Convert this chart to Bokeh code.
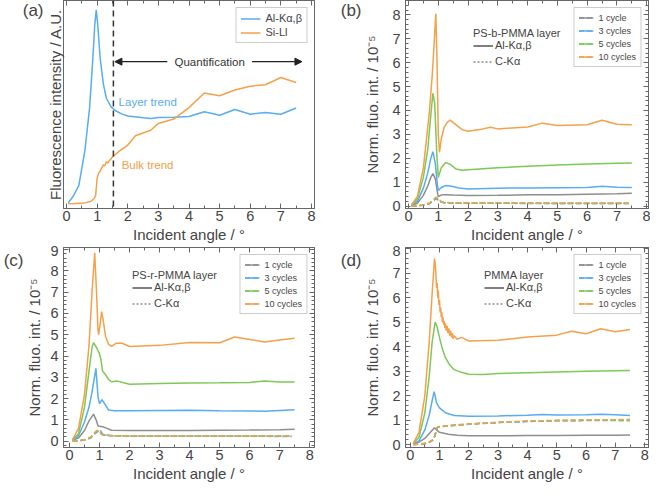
from bokeh.plotting import figure
from bokeh.models import (LinearAxis, SingleIntervalTicker, FixedTicker, Legend, LegendItem,
                          Label, Span, Arrow, NormalHead, Range1d)
from bokeh.layouts import gridplot
from bokeh.embed import file_html
from bokeh.resources import INLINE

NAN = float("nan")

# ---------------- data ----------------
# (a) overview, arbitrary units
a_al_x = [0.05, 0.2, 0.4, 0.6, 0.75, 0.85, 0.92, 0.97, 1.02, 1.1, 1.2, 1.3, 1.45, 1.6, 1.8, 2.0,
          2.5, 2.75, 3.0, 3.5, 4.0, 4.5, 5.0, 5.5, 6.0, 6.5, 7.0, 7.5]
a_al_y = [2.6, 5.5, 11, 28, 48, 70, 88, 95.5, 88, 72, 60, 53, 49, 47, 45.5, 44.5,
          43.6, 43.3, 43.7, 43.9, 44.2, 46.5, 44.8, 47.6, 45.3, 46.2, 45.3, 48.3]
a_si_x = [0.05, 0.3, 0.6, 0.8, 0.9, 0.95, 1.0, 1.05, 1.1, 1.15, 1.2, 1.25, 1.3, 1.35, 1.4, 1.5,
          1.7, 2.0, 2.25, 2.75, 3.0, 3.5, 4.0, 4.5, 5.0, 5.5, 6.0, 6.5, 7.0, 7.5]
a_si_y = [2.3, 2.4, 2.7, 3.5, 4.8, 6.3, 14.6, 17, 18, 19.5, 21, 20.5, 22.5, 21.8, 23, 24.8,
          27.3, 30.5, 35, 37.6, 40.9, 43, 48.5, 55.5, 54.2, 57, 58.8, 59.5, 63, 60.6]
a_quant_line = 1.53
a_quant_y = 70.6
a_quant_left = (3.29, 1.58)
a_quant_right = (6.06, 7.69)

cycle_labels = ["1 cycle", "3 cycles", "5 cycles", "10 cycles"]

# (b) PS-b-PMMA
b_al_x = [
    [0.1, 0.3, 0.5, 0.65, 0.75, 0.82, 0.9, 0.97, 1.0, 1.1, 1.2, 1.5, 2.0, 3.0, 4.0, 5.0, 6.0, 7.0, 7.5],
    [0.1, 0.3, 0.5, 0.65, 0.75, 0.82, 0.9, 0.97, 1.0, 1.1, 1.25, 1.4, 1.7, 2.0, 3.0, 4.0, 5.0, 6.0, 6.5, 7.0, 7.5],
    [0.1, 0.3, 0.5, 0.65, 0.75, 0.82, 0.88, 0.95, 1.0, 1.1, 1.25, 1.4, 1.6, 1.8, 2.0, 3.0, 4.0, 5.0, 6.0, 7.0, 7.5],
    [0.1, 0.3, 0.5, 0.7, 0.8, 0.88, 0.92, 0.96, 1.0, 1.04, 1.1, 1.2, 1.3, 1.4, 1.6, 1.8, 2.0, 2.5, 2.75, 3.0,
     4.0, 4.5, 5.0, 6.0, 6.5, 7.0, 7.5],
]
b_al_y = [
    [0.02, 0.12, 0.45, 0.85, 1.2, 1.36, 1.15, 0.6, 0.4, 0.46, 0.48, 0.46, 0.44, 0.45, 0.47, 0.48, 0.5, 0.52, 0.54],
    [0.03, 0.2, 0.75, 1.4, 2.0, 2.28, 1.8, 0.9, 0.65, 0.78, 0.86, 0.84, 0.76, 0.72, 0.75, 0.76, 0.77, 0.78, 0.83, 0.79, 0.78],
    [0.04, 0.3, 1.2, 2.4, 3.8, 4.72, 4.3, 2.2, 1.2, 1.6, 1.82, 1.75, 1.55, 1.5, 1.52, 1.6, 1.67, 1.72, 1.76, 1.79, 1.8],
    [0.05, 0.4, 1.6, 3.9, 5.5, 7.2, 8.05, 6.0, 3.0, 2.25, 2.8, 3.3, 3.5, 3.6, 3.4, 3.2, 3.13, 3.23, 3.3, 3.23,
     3.31, 3.47, 3.37, 3.4, 3.59, 3.42, 3.4],
]
b_c_x = [0.1, 0.3, 0.5, 0.7, 0.8, 0.88, 0.93, 1.0, 1.1, 1.2, 1.5, 2.0, 3.0, 4.0, 5.0, 6.0, 7.0, 7.4]
b_c_y = [
    [0.0, 0.01, 0.04, 0.1, 0.18, 0.26, 0.3, 0.25, 0.17, 0.14, 0.13, 0.12, 0.12, 0.12, 0.12, 0.12, 0.12, 0.12],
    [0.0, 0.01, 0.04, 0.11, 0.2, 0.28, 0.33, 0.27, 0.17, 0.14, 0.13, 0.12, 0.12, 0.11, 0.11, 0.11, 0.11, 0.11],
    [0.0, 0.01, 0.05, 0.12, 0.21, 0.3, 0.35, 0.28, 0.18, 0.14, 0.13, 0.12, 0.12, 0.12, 0.11, 0.11, 0.11, 0.11],
    [0.0, 0.02, 0.05, 0.13, 0.23, 0.33, 0.38, 0.3, 0.19, 0.15, 0.14, 0.13, 0.13, 0.12, 0.12, 0.12, 0.12, 0.12],
]

# (c) PS-r-PMMA
c_al_x = [
    [0.1, 0.3, 0.5, 0.65, 0.8, 0.9, 0.95, 1.1, 1.25, 1.4, 2.0, 3.0, 4.0, 5.0, 6.0, 7.0, 7.5],
    [0.1, 0.3, 0.5, 0.65, 0.75, 0.82, 0.88, 0.95, 1.0, 1.08, 1.2, 1.3, 1.5, 2.0, 3.0, 4.0, 5.0, 6.0, 6.5, 7.0, 7.5],
    [0.1, 0.3, 0.5, 0.65, 0.75, 0.8, 0.9, 1.0, 1.05, 1.1, 1.2, 1.3, 1.4, 1.6, 2.0, 3.0, 4.0, 5.0, 6.0, 6.5, 7.0, 7.5],
    [0.1, 0.3, 0.5, 0.65, 0.75, 0.84, 0.9, 0.95, 0.97, 1.02, 1.07, 1.12, 1.2, 1.3, 1.4, 1.45, 1.55, 1.75, 2.0,
     3.0, 4.0, 5.0, 5.5, 6.5, 7.0, 7.5],
]
c_al_y = [
    [0.05, 0.15, 0.5, 0.95, 1.27, 0.95, 0.71, 0.68, 0.6, 0.51, 0.5, 0.5, 0.5, 0.51, 0.52, 0.54, 0.56],
    [0.05, 0.25, 0.9, 1.6, 2.3, 2.9, 3.42, 2.07, 1.76, 1.95, 1.69, 1.46, 1.43, 1.43, 1.44, 1.45, 1.43, 1.42, 1.4, 1.44, 1.48],
    [0.06, 0.35, 1.6, 3.3, 4.4, 4.63, 4.4, 4.1, 3.8, 3.3, 3.12, 2.9, 2.79, 2.82, 2.67, 2.71, 2.73, 2.74, 2.76, 2.82, 2.78, 2.78],
    [0.07, 0.6, 2.2, 4.5, 7.0, 8.85, 7.0, 5.2, 5.0, 5.5, 6.09, 5.7, 4.93, 4.55, 4.45, 4.5, 4.6, 4.6, 4.45,
     4.5, 4.63, 4.62, 4.89, 4.66, 4.75, 4.83],
]
c_c_x = [0.1, 0.3, 0.5, 0.7, 0.8, 0.9, 0.95, 1.0, 1.1, 1.3, 1.6, 2.0, 3.0, 4.0, 5.0, 6.0, 7.0, 7.4]
c_c_y = [
    [0.0, 0.02, 0.05, 0.15, 0.3, 0.42, 0.45, 0.38, 0.3, 0.26, 0.25, 0.24, 0.24, 0.24, 0.24, 0.24, 0.24, 0.24],
    [0.0, 0.02, 0.05, 0.15, 0.28, 0.42, 0.5, 0.55, 0.35, 0.27, 0.25, 0.23, 0.23, 0.23, 0.23, 0.23, 0.22, 0.22],
    [0.0, 0.02, 0.06, 0.17, 0.32, 0.45, 0.47, 0.4, 0.3, 0.26, 0.24, 0.23, 0.23, 0.23, 0.23, 0.23, 0.23, 0.23],
    [0.0, 0.02, 0.06, 0.18, 0.35, 0.5, 0.52, 0.42, 0.3, 0.26, 0.25, 0.24, 0.24, 0.24, 0.24, 0.24, 0.24, 0.24],
]

# (d) PMMA
d_al_x = [
    [0.1, 0.3, 0.5, 0.65, 0.83, 0.9, 1.0, 1.3, 1.6, 2.0, 3.0, 4.0, 5.0, 6.0, 7.0, 7.5],
    [0.1, 0.3, 0.5, 0.65, 0.75, 0.82, 0.9, 1.0, 1.2, 1.5, 2.0, 3.0, 4.0, 4.5, 5.0, 6.0, 6.5, 7.0, 7.5],
    [0.1, 0.3, 0.5, 0.65, 0.75, 0.85, 0.92, 1.0, 1.1, 1.2, 1.35, 1.5, 1.75, 2.0, 2.5, 3.0, 4.0, 5.0, 6.0, 7.0, 7.5],
    [0.1, 0.3, 0.5, 0.65, 0.75, 0.83, 0.86, 0.88, 0.9, 0.92, 0.94, 0.96, 0.98, 1.0, 1.02, 1.04, 1.06, 1.08,
     1.1, 1.12, 1.14, 1.16, 1.18, 1.2, 1.23, 1.26, 1.29, 1.32, 1.35, 1.38, 1.41, 1.44, 1.47, 1.5, 1.6,
     1.75, 1.85, 2.0, 3.0, 4.0, 5.0, 5.5, 6.0, 6.5, 7.0, 7.5],
]
d_al_y = [
    [0.02, 0.1, 0.25, 0.45, 0.69, 0.6, 0.5, 0.42, 0.38, 0.36, 0.36, 0.37, 0.37, 0.38, 0.38, 0.39],
    [0.03, 0.15, 0.6, 1.2, 1.8, 2.16, 1.7, 1.5, 1.3, 1.19, 1.16, 1.17, 1.2, 1.23, 1.21, 1.22, 1.24, 1.22, 1.19],
    [0.03, 0.3, 1.3, 2.8, 4.2, 5.0, 4.8, 4.37, 3.9, 3.56, 3.25, 3.06, 2.95, 2.87, 2.86, 2.9, 2.93, 2.96, 2.99, 3.02, 3.03],
    [0.04, 0.5, 2.0, 4.2, 6.2, 7.6, 7.3, 6.9, 6.4, 6.6, 6.0, 6.3, 5.7, 5.9, 5.4, 5.6, 5.2, 5.4,
     5.0, 5.2, 4.9, 5.05, 4.75, 4.95, 4.65, 4.85, 4.55, 4.75, 4.45, 4.65, 4.38, 4.55, 4.32, 4.45, 4.3,
     4.38, 4.32, 4.23, 4.26, 4.39, 4.47, 4.63, 4.53, 4.73, 4.61, 4.7],
]
d_c_x = [0.1, 0.3, 0.6, 0.8, 0.88, 0.93, 1.0, 1.5, 2.0, 3.0, 4.0, 5.0, 6.0, 7.0, 7.5]
d_c_y = [
    [0.0, 0.02, 0.05, 0.2, 0.55, 0.7, 0.73, 0.78, 0.83, 0.9, 0.94, 0.97, 0.98, 0.98, 0.98],
    [0.0, 0.02, 0.05, 0.21, 0.52, 0.71, 0.73, 0.79, 0.84, 0.9, 0.95, 0.98, 0.99, 1.0, 1.0],
    [0.0, 0.02, 0.06, 0.21, 0.5, 0.71, 0.74, 0.79, 0.84, 0.91, 0.95, 0.98, 0.99, 0.99, 0.98],
    [0.0, 0.02, 0.06, 0.22, 0.5, 0.72, 0.74, 0.79, 0.84, 0.91, 0.96, 0.99, 1.01, 1.02, 1.03],
]

# ---------------- styling ----------------
FONT = "Liberation Sans"
TXT = "#444444"
AX = "#666666"
COLORS = ["#8e8e8e", "#58acf2", "#7cc955", "#f5a04a"]
BLUE, ORANGE = "#58acf2", "#f5a04a"
YLAB = "Norm. fluo. int. / 10\u207b\u2075"
FIG_W = 325


def make_fig(h, xr, yr, border, ylabel, yint, tag, tag_px, ylab_standoff):
    l, r, t, b = border
    p = figure(width=FIG_W, height=h, x_range=Range1d(*xr), y_range=Range1d(*yr),
               x_axis_type=None, y_axis_type=None, output_backend="svg", toolbar_location=None,
               min_border_left=l, min_border_right=r, min_border_top=t, min_border_bottom=b)
    p.outline_line_color = AX
    xt = SingleIntervalTicker(interval=1, num_minor_ticks=2)
    yt = SingleIntervalTicker(interval=yint, num_minor_ticks=5) if yint else FixedTicker(ticks=[])
    axes = [(LinearAxis(ticker=xt, axis_label="Incident angle / \u00b0"), "below", True),
            (LinearAxis(ticker=xt), "above", False),
            (LinearAxis(ticker=yt, axis_label=ylabel), "left", bool(yint)),
            (LinearAxis(ticker=yt), "right", False)]
    for ax, side, lab in axes:
        ax.major_tick_in = 5
        ax.major_tick_out = 0
        ax.minor_tick_in = 3
        ax.minor_tick_out = 0
        ax.axis_line_color = AX
        ax.major_tick_line_color = AX
        ax.minor_tick_line_color = AX
        ax.major_label_text_font = FONT
        ax.major_label_text_font_size = "14.5px"
        ax.major_label_text_color = TXT
        ax.axis_label_text_font = FONT
        ax.axis_label_text_font_size = "15px"
        ax.axis_label_text_font_style = "normal"
        ax.axis_label_text_color = TXT
        ax.major_label_standoff = 2
        ax.axis_label_standoff = 2
        if side == "left":
            ax.major_label_standoff = 5
            ax.axis_label_standoff = ylab_standoff
        if not lab:
            ax.major_label_text_font_size = "0px"
            ax.major_label_standoff = 0
        p.add_layout(ax, side)
    # panel tag: an outer left axis with one tick (no tick mark) labelled with the tag, near the frame top
    fh = h - t - b - 47
    mid = yr[1] - tag_px * (yr[1] - yr[0]) / fh
    tag_ax = LinearAxis(ticker=FixedTicker(ticks=[mid]), major_label_overrides={mid: tag},
                        axis_line_color=None, major_tick_in=0, major_tick_out=0,
                        minor_tick_in=0, minor_tick_out=0, major_label_standoff=0,
                        major_label_text_font=FONT, major_label_text_font_size="17px",
                        major_label_text_color=TXT)
    p.add_layout(tag_ax, "left")
    return p


def style_legend(leg, size):
    leg.label_text_font = FONT
    leg.label_text_font_size = size
    leg.label_text_color = TXT


# ---------------- (a) ----------------
pa = make_fig(245, (-0.1, 8.1), (0, 100), (42, 8, 0, 0), "Fluorescence intensity / A.U.", None,
              "(a)", 9, 0)
ra1 = pa.line(a_al_x, a_al_y, line_color=BLUE, line_width=1.5)
ra2 = pa.line(a_si_x, a_si_y, line_color=ORANGE, line_width=1.5)
pa.add_layout(Span(location=a_quant_line, dimension="height", line_color="#333333",
                   line_dash="6 4", line_width=1.5))
for xs, xe in (a_quant_left, a_quant_right):
    pa.add_layout(Arrow(x_start=xs, y_start=a_quant_y, x_end=xe, y_end=a_quant_y,
                        line_color="#222222", line_width=1.2,
                        end=NormalHead(size=7, fill_color="#222222", line_color="#222222")))
pa.add_layout(Label(x=(a_quant_left[0] + a_quant_right[0]) / 2, y=a_quant_y, text="Quantification",
                    text_align="center", text_baseline="middle", text_font=FONT,
                    text_font_size="11.5px", text_color="#333333"))
pa.add_layout(Label(x=1.70, y=51, text="Layer trend", text_baseline="middle", text_font=FONT,
                    text_font_size="11.5px", text_color=BLUE))
pa.add_layout(Label(x=1.80, y=21, text="Bulk trend", text_baseline="middle", text_font=FONT,
                    text_font_size="11.5px", text_color=ORANGE))
leg_a = Legend(items=[LegendItem(label="Al-K\u03b1,\u03b2", renderers=[ra1]),
                      LegendItem(label="Si-Ll", renderers=[ra2])],
               location="top_right", margin=7, padding=4, spacing=2, glyph_width=20,
               glyph_height=11, label_height=11, label_standoff=5,
               border_line_color="#999999", background_fill_alpha=1)
style_legend(leg_a, "11px")
pa.add_layout(leg_a)


# ---------------- cycles panels ----------------
def cycles(p, al_x, al_y, c_x, c_y, title, mini_x, mini_y):
    items = []
    for i in range(4):
        rc = p.line(c_x, c_y[i], line_color=COLORS[i], line_width=1.5, line_dash="5 3")
        ra = p.line(al_x[i], al_y[i], line_color=COLORS[i], line_width=1.5)
        items.append(LegendItem(label=cycle_labels[i], renderers=[rc, ra]))
    leg = Legend(items=items, location="top_right", margin=7, padding=4, spacing=2,
                 glyph_width=15, glyph_height=11, label_height=11, label_standoff=5,
                 border_line_color="#999999", background_fill_alpha=1)
    style_legend(leg, "9px")
    p.add_layout(leg)
    rs = p.line([NAN], [NAN], line_color="#555555", line_width=1.5)
    rd = p.line([NAN], [NAN], line_color="#555555", line_width=1.2, line_dash="2 2")
    mini = Legend(items=[LegendItem(label="Al-K\u03b1,\u03b2", renderers=[rs]),
                         LegendItem(label="C-K\u03b1", renderers=[rd])],
                  title=title, location=(mini_x, mini_y), margin=0, padding=0, spacing=4,
                  glyph_width=20, glyph_height=11, label_height=11, label_standoff=2,
                  border_line_color=None, background_fill_alpha=0,
                  title_text_font=FONT, title_text_font_size="11px", title_text_color=TXT,
                  title_text_font_style="normal", title_standoff=0)
    style_legend(mini, "11px")
    p.add_layout(mini)


pb = make_fig(245, (-0.1, 8.06), (-0.1, 8.6), (80, 2, 0, 0), YLAB, 1, "(b)", 9, 8)
cycles(pb, b_al_x, b_al_y, b_c_x, b_c_y, "PS-b-PMMA layer", 68, 141)

pc = make_fig(239, (-0.2, 8.16), (-0.3, 9.1), (62, 11, 2, 0), YLAB, 1, "(c)", 12, 4)
cycles(pc, c_al_x, c_al_y, c_c_x, c_c_y, "PS-r-PMMA layer", 69, 138)

pd = make_fig(239, (-0.16, 8.13), (-0.12, 8.05), (78, 2, 2, 0), YLAB, 1, "(d)", 12, 8)
cycles(pd, d_al_x, d_al_y, d_c_x, d_c_y, "PMMA layer", 79, 138)

grid = gridplot([[pa, pb], [pc, pd]], toolbar_location=None)
open("out.html", "w").write(file_html(grid, INLINE))
